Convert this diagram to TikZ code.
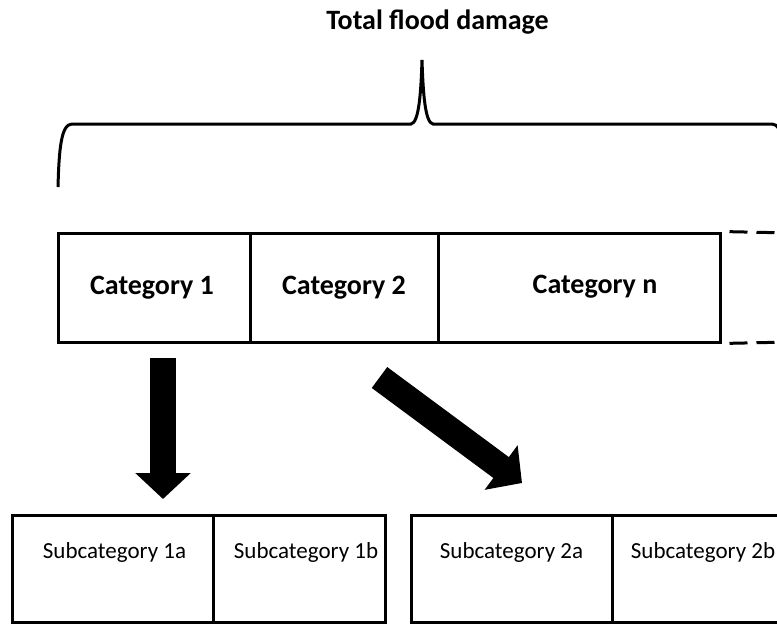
\documentclass[tikz,border=0pt]{standalone}
\usepackage{fontspec}
\setmainfont{Carlito}
\usetikzlibrary{arrows.meta}
\begin{document}
\begin{tikzpicture}[x=1pt,y=-1pt,
  catbox/.style={draw,line width=3pt,minimum height=109pt,inner sep=0pt},
  subbox/.style={draw,line width=3pt,minimum height=107pt,inner sep=0pt},
  cattxt/.style={font=\fontsize{28}{32}\selectfont\bfseries,inner sep=0pt},
  subtxt/.style={font=\fontsize{23}{27}\selectfont,inner sep=0pt},
  bigarrow/.style={line width=26pt,-{Triangle[length=26pt,width=54pt]}}]
\clip (0,0) rectangle (777,624);
% title and brace
\node[cattxt] (total) at (437.5,22) {Total flood damage};
\draw [line width=3pt] (58,187) .. controls (59,150) and (61,124) .. (72,124) -- (411,124)
  .. controls (419,123) and (421,92) .. (422,60) .. controls (423,92) and (425,123) .. (433,124)
  -- (772,124) .. controls (783,124) and (785,150) .. (786,187);
% categories
\node[catbox,minimum width=192pt] (cat1) at (154,287.5) {};
\node[catbox,minimum width=188pt] (cat2) at (344,287.5) {};
\node[catbox,minimum width=282pt] (catn) at (579,287.5) {};
\node[cattxt] (cat1t) at ([xshift=-2pt]cat1.center) {Category 1};
\node[cattxt] (cat2t) at (cat2.center) {Category 2};
\node[cattxt] (catnt) at ([xshift=16pt,yshift=1pt]catn.center) {Category n};
\draw [line width=3pt,dash pattern=on 18pt off 9pt,dash phase=-8pt] (catn.north east) -- (790,233);
\draw [line width=3pt,dash pattern=on 18pt off 9pt,dash phase=-8pt] (catn.south east) -- (790,342);
% subcategories
\node[subbox,minimum width=201pt] (sub1a) at (112.5,568.5) {};
\node[subbox,minimum width=172pt] (sub1b) at (299,568.5) {};
\node[subbox,minimum width=201pt] (sub2a) at (511.5,568.5) {};
\node[subbox,minimum width=200pt] (sub2b) at (712,568.5) {};
\node[subtxt] (sub1at) at ([xshift=2pt,yshift=16pt]sub1a.center) {Subcategory 1a};
\node[subtxt] (sub1bt) at ([xshift=7pt,yshift=16pt]sub1b.center) {Subcategory 1b};
\node[subtxt] (sub2at) at ([yshift=16pt]sub2a.center) {Subcategory 2a};
\node[subtxt] (sub2bt) at ([xshift=-9pt,yshift=16pt]sub2b.center) {Subcategory 2b};
% arrows
\coordinate (d1s) at (163,358);
\coordinate (d1e) at (163,499);
\coordinate (d2s) at (379.5,377.5);
\coordinate (d2e) at (522,483);
\draw[bigarrow] (d1s) -- (d1e);
\draw[bigarrow] (d2s) -- (d2e);
\end{tikzpicture}
\end{document}
